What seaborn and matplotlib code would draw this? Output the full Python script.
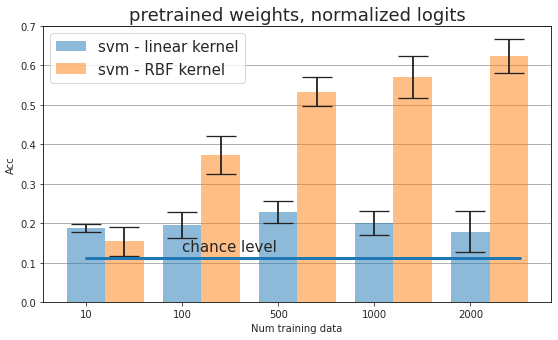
import pandas as pd
import matplotlib
matplotlib.use("Agg")
import matplotlib.pyplot as plt
import seaborn as sns

# valeurs
num_data = ["10", "100", "500", "1000", "2000"]
acc_linear = [0.188, 0.195, 0.228, 0.200, 0.179]
err_linear = [0.010, 0.033, 0.028, 0.031, 0.051]
acc_rbf = [0.154, 0.372, 0.533, 0.570, 0.625]
err_rbf = [0.036, 0.048, 0.037, 0.053, 0.043]
chance = 1 / 9

df = pd.DataFrame({
    "num": num_data * 2,
    "acc": acc_linear + acc_rbf,
    "model": ["svm - linear kernel"] * 5 + ["svm - RBF kernel"] * 5,
})

sns.set_style("ticks")
fig, ax = plt.subplots(figsize=(7.75, 4.736), dpi=72)
fig.subplots_adjust(left=0.077, right=0.9875, top=0.921, bottom=0.111)

sns.barplot(data=df, x="num", y="acc", hue="model", errorbar=None,
            palette=["#1f77b4", "#ff7f0e"], alpha=0.5, width=0.8,
            saturation=1, linewidth=0, ax=ax)

pos = range(len(num_data))
ax.errorbar([p - 0.2 for p in pos], acc_linear, yerr=err_linear, fmt="none",
            ecolor="#222222", elinewidth=1.8, capsize=15, capthick=1.3)
ax.errorbar([p + 0.2 for p in pos], acc_rbf, yerr=err_rbf, fmt="none",
            ecolor="#222222", elinewidth=1.8, capsize=15, capthick=1.3)

ax.plot([-0.2, 4.32], [chance, chance], color="#1f77b4", lw=3)
ax.text(0.8, 0.13, "chance level", fontsize=15)

ax.set_xticks([p - 0.2 for p in pos])
ax.set_xticklabels(num_data)
ax.set_xlim(-0.648, 4.64)
ax.set_ylim(0, 0.7)
ax.set_yticks([0, 0.1, 0.2, 0.3, 0.4, 0.5, 0.6, 0.7])
ax.yaxis.grid(True, color="#b0b0b0", lw=1)
ax.set_axisbelow(True)
for s in ax.spines.values():
    s.set_color("black")

ax.set_xlabel("Num training data")
ax.set_ylabel("Acc")
ax.set_title("pretrained weights, normalized logits", fontsize=18)
ax.legend(loc="upper left", fontsize=15, title=None)

plt.savefig("out.png")
